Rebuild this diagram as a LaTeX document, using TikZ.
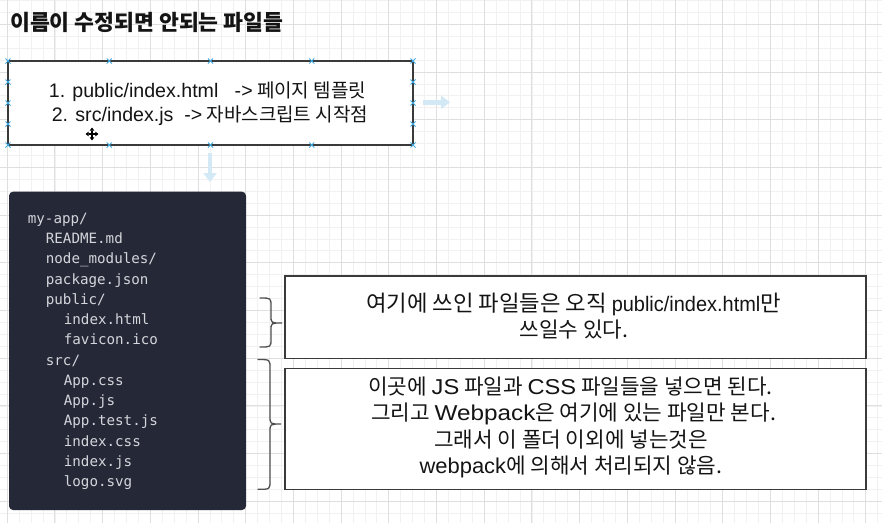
\documentclass[tikz,border=0pt]{standalone}
\usepackage{fontspec}
\setmainfont{Noto Sans CJK KR}
\newfontfamily\latf{Liberation Sans}
\newfontfamily\codef{DejaVu Sans Mono}
\newcommand\EN[3]{{\latf\addfontfeature{FakeStretch=#2}\fontsize{#1}{22}\selectfont #3}}
\usetikzlibrary{arrows.meta}
\definecolor{gridminor}{HTML}{F1F1F1}
\definecolor{gridmajor}{HTML}{DFDFDF}
\definecolor{codebg}{HTML}{252836}
\definecolor{codefg}{HTML}{D4D6DC}
\definecolor{boxline}{HTML}{3A3A3A}
\definecolor{handlec}{HTML}{3FA9E0}
\definecolor{hintc}{HTML}{D3E9F6}
\definecolor{ink}{HTML}{141414}
\tikzset{
  whitebox/.style={draw=boxline, line width=1.4pt, fill=white, inner sep=0pt},
  codebox/.style={fill=codebg, rounded corners=4pt, inner sep=0pt},
  codeline/.style={anchor=base west, inner sep=0pt, text=codefg, font=\codef\fontsize{14.2}{17}\selectfont},
  boxtexta/.style={anchor=base, inner sep=0pt, text=ink, font=\fontsize{19}{24}\selectfont},
  boxtext/.style={anchor=base, inner sep=0pt, text=ink, font=\fontsize{21.3}{24}\selectfont},
  brace/.style={draw=boxline!90, line width=1.3pt, line cap=round},
  hint/.style={draw=hintc, line width=4.5pt, -{Triangle[length=9pt,width=13pt]}},
  handlemark/.style={draw=handlec, line width=0.9pt},
}
\begin{document}
\begin{tikzpicture}[x=1pt, y=-1pt]
\useasboundingbox (0,0) rectangle (882,523);
\fill[white] (0,0) rectangle (882,523);
% grid
\foreach \k in {0,...,75} { \draw[gridminor, line width=0.8pt] ({7.2+11.925*(\k-1)},0) -- ++(0,523); }
\foreach \k in {0,...,44} { \draw[gridminor, line width=0.8pt] (0,{0.45+11.925*\k}) -- ++(882,0); }
\foreach \k in {0,...,18} { \draw[gridmajor, line width=0.9pt] ({7.2+47.7*\k},0) -- ++(0,523); }
\foreach \k in {0,...,10} { \draw[gridmajor, line width=0.9pt] (0,{24.3+47.7*\k}) -- ++(882,0); }

% title
\node[anchor=base west, inner sep=0pt, text=ink, font=\bfseries\fontsize{21.6}{24}\selectfont] (title) at (10,30.5) {이름이 수정되면 안되는 파일들};

% box 1
\node[whitebox, minimum width=405pt, minimum height=84pt] (b1) at (210.5,103) {};
\node[boxtexta] (b1a) at (207.5,97) {\EN{19.6}{1}{1. public/index.html\ \ \ ->} 페이지 템플릿};
\node[boxtexta] (b1b) at (210,121.5) {\EN{19.6}{1}{2. src/index.js\ \ ->} 자바스크립트 시작점};
% selection handles
\foreach \hx in {8,109.25,210.5,311.75,413} {
  \foreach \hy in {61,145} {
    \draw[handlemark] (\hx-2.5,\hy-2.5) -- (\hx+2.5,\hy+2.5) (\hx-2.5,\hy+2.5) -- (\hx+2.5,\hy-2.5);
  }
}
\foreach \hx in {8,413} {
  \foreach \hy in {82,103,124} {
    \draw[handlemark] (\hx-2.5,\hy-2.5) -- (\hx+2.5,\hy+2.5) (\hx-2.5,\hy+2.5) -- (\hx+2.5,\hy-2.5);
  }
}
% hover hint arrows
\coordinate (hr0) at (423,102.3);
\coordinate (hr1) at (450,102.3);
\coordinate (hd0) at (210,153);
\coordinate (hd1) at (210,182);
\draw[hint] (hr0) -- (hr1);
\draw[hint] (hd0) -- (hd1);
% move cursor
\coordinate (cur) at (92,134);
\draw[white, line width=3pt] ([xshift=-7.5pt]cur) -- ([xshift=7.5pt]cur) ([yshift=-7.5pt]cur) -- ([yshift=7.5pt]cur);
\draw[black, line width=1.2pt, {Triangle[length=3.2pt,width=4.5pt]}-{Triangle[length=3.2pt,width=4.5pt]}] ([xshift=-6.5pt]cur) -- ([xshift=6.5pt]cur);
\draw[black, line width=1.2pt, {Triangle[length=3.2pt,width=4.5pt]}-{Triangle[length=3.2pt,width=4.5pt]}] ([yshift=-6.5pt]cur) -- ([yshift=6.5pt]cur);

% code box
\node[codebox, minimum width=237pt, minimum height=318.3pt] (code) at (127.5,350.85) {};
\node[codeline] (c0) at (27.7,223.3) {my-app/};
\node[codeline] (c1) at (45.7,243.55) {README.md};
\node[codeline] (c2) at (45.7,263.8) {node\_modules/};
\node[codeline] (c3) at (45.7,284.05) {package.json};
\node[codeline] (c4) at (45.7,304.3) {public/};
\node[codeline] (c5) at (63.7,324.55) {index.html};
\node[codeline] (c6) at (63.7,344.8) {favicon.ico};
\node[codeline] (c7) at (45.7,365.05) {src/};
\node[codeline] (c8) at (63.7,385.3) {App.css};
\node[codeline] (c9) at (63.7,405.55) {App.js};
\node[codeline] (c10) at (63.7,425.8) {App.test.js};
\node[codeline] (c11) at (63.7,446.05) {index.css};
\node[codeline] (c12) at (63.7,466.3) {index.js};
\node[codeline] (c13) at (63.7,486.55) {logo.svg};

% braces
\draw[brace] (260,298) .. controls (271,298) .. (271,306) -- (271,316) .. controls (271,323) .. (282,323) .. controls (271,323) .. (271,330) -- (271,339) .. controls (271,347) .. (260,347);
\draw[brace] (258,359.5) .. controls (270,359.5) .. (270,368) -- (270,416) .. controls (270,424) .. (281,424) .. controls (270,424) .. (270,432) -- (270,481) .. controls (270,489.3) .. (258,489.3);

% box 2
\node[whitebox, minimum width=581pt, minimum height=82.3pt] (b2) at (575.5,317.2) {};
\node[boxtext, font=\fontsize{22.3}{24}\selectfont] (b2a) at (573.5,311) {여기에 쓰인 파일들은 오직 \EN{21}{0.95}{public/index.html}만};
\node[boxtext] (b2b) at (574,337.5) {쓰일수 있다.};

% box 3
\node[whitebox, minimum width=581pt, minimum height=121pt] (b3) at (575.5,428.8) {};
\node[boxtext] (b3a) at (570.5,394) {이곳에 \EN{21.5}{1.1}{JS} 파일과 \EN{21.5}{1.1}{CSS} 파일들을 넣으면 된다.};
\node[boxtext] (b3b) at (573.5,420.5) {그리고 \EN{21.5}{1.13}{Webpack}은 여기에 있는 파일만 본다.};
\node[boxtext] (b3c) at (571,447) {그래서 이 폴더 이외에 넣는것은};
\node[boxtext] (b3d) at (571,473.5) {\EN{21.5}{1.02}{webpack}에 의해서 처리되지 않음.};
\end{tikzpicture}
\end{document}
